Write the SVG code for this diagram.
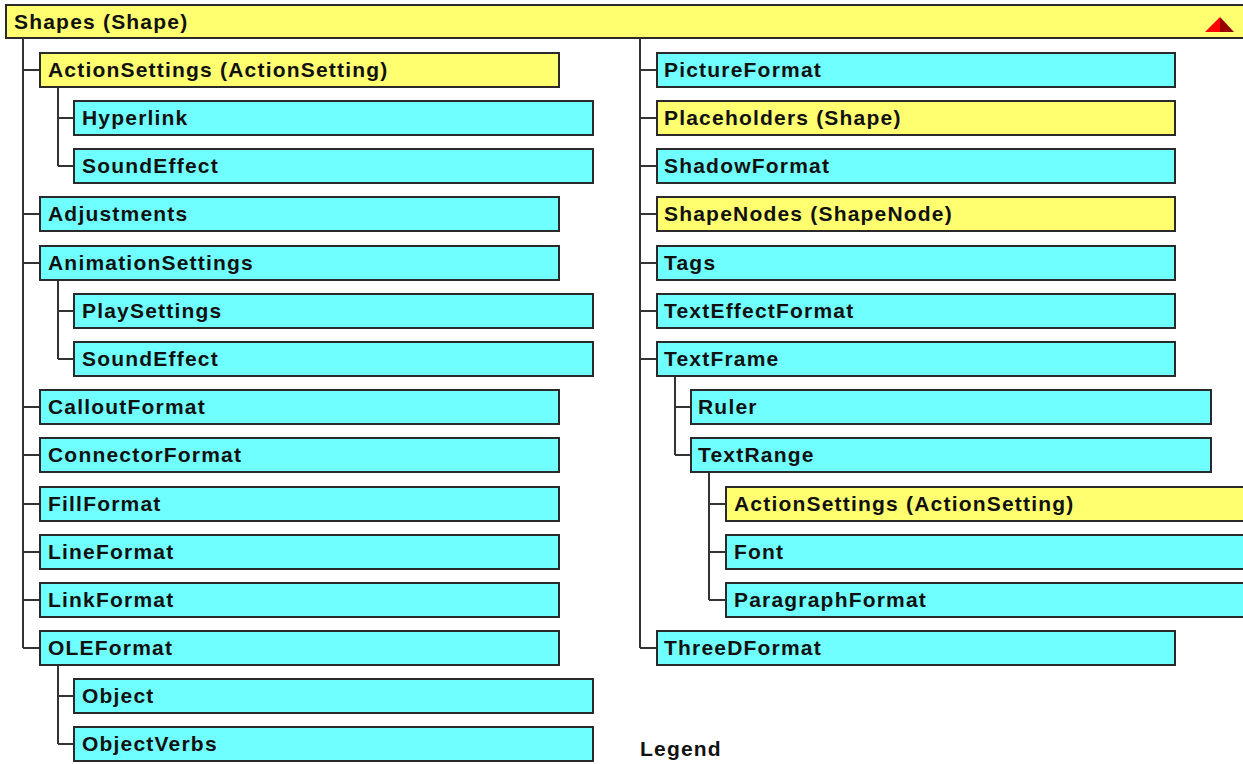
<svg xmlns="http://www.w3.org/2000/svg" width="1243" height="764" viewBox="0 0 1243 764">
<style>
.y{fill:#ffff70;stroke:#2a2a2a;stroke-width:2}
.c{fill:#70ffff;stroke:#2a2a2a;stroke-width:2}
text{font-family:"Liberation Sans",Arial,sans-serif;font-weight:bold;font-size:21px;letter-spacing:1.2px;fill:#111}
.ln{stroke:#333;stroke-width:2;fill:none}
</style>
<rect width="1243" height="764" fill="#fff"/>
<g id="root">
<rect class="y" x="6" y="5" width="1240" height="33"/>
<text x="14" y="29">Shapes (Shape)</text>
<polygon points="1205,32 1220,17 1220,32" fill="#ff0000"/>
<polygon points="1220,17 1234,32 1220,32" fill="#9a0000"/>
</g>
<g id="connectors" class="ln">
<path d="M23 38V648M23 70H40M23 214H40M23 263H40M23 407H40M23 455H40M23 504H40M23 552H40M23 600H40M23 648H40"/>
<path d="M58 87V166M58 118H74M58 166H74"/>
<path d="M58 280V359M58 311H74M58 359H74"/>
<path d="M58 665V744M58 696H74M58 744H74"/>
<path d="M640 38V648M640 70H657M640 118H657M640 166H657M640 214H657M640 263H657M640 311H657M640 359H657M640 648H657"/>
<path d="M675 376V455M675 407H691M675 455H691"/>
<path d="M709 472V600M709 504H726M709 552H726M709 600H726"/>
</g>
<g id="n1"><rect class="y" x="40" y="53" width="519" height="34"/><text x="48" y="77">ActionSettings (ActionSetting)</text></g>
<g id="n2"><rect class="c" x="74" y="101" width="519" height="34"/><text x="82" y="125">Hyperlink</text></g>
<g id="n3"><rect class="c" x="74" y="149" width="519" height="34"/><text x="82" y="173">SoundEffect</text></g>
<g id="n4"><rect class="c" x="40" y="197" width="519" height="34"/><text x="48" y="221">Adjustments</text></g>
<g id="n5"><rect class="c" x="40" y="246" width="519" height="34"/><text x="48" y="270">AnimationSettings</text></g>
<g id="n6"><rect class="c" x="74" y="294" width="519" height="34"/><text x="82" y="318">PlaySettings</text></g>
<g id="n7"><rect class="c" x="74" y="342" width="519" height="34"/><text x="82" y="366">SoundEffect</text></g>
<g id="n8"><rect class="c" x="40" y="390" width="519" height="34"/><text x="48" y="414">CalloutFormat</text></g>
<g id="n9"><rect class="c" x="40" y="438" width="519" height="34"/><text x="48" y="462">ConnectorFormat</text></g>
<g id="n10"><rect class="c" x="40" y="487" width="519" height="34"/><text x="48" y="511">FillFormat</text></g>
<g id="n11"><rect class="c" x="40" y="535" width="519" height="34"/><text x="48" y="559">LineFormat</text></g>
<g id="n12"><rect class="c" x="40" y="583" width="519" height="34"/><text x="48" y="607">LinkFormat</text></g>
<g id="n13"><rect class="c" x="40" y="631" width="519" height="34"/><text x="48" y="655">OLEFormat</text></g>
<g id="n14"><rect class="c" x="74" y="679" width="519" height="34"/><text x="82" y="703">Object</text></g>
<g id="n15"><rect class="c" x="74" y="727" width="519" height="34"/><text x="82" y="751">ObjectVerbs</text></g>
<g id="r1"><rect class="c" x="657" y="53" width="518" height="34"/><text x="664" y="77">PictureFormat</text></g>
<g id="r2"><rect class="y" x="657" y="101" width="518" height="34"/><text x="664" y="125">Placeholders (Shape)</text></g>
<g id="r3"><rect class="c" x="657" y="149" width="518" height="34"/><text x="664" y="173">ShadowFormat</text></g>
<g id="r4"><rect class="y" x="657" y="197" width="518" height="34"/><text x="664" y="221">ShapeNodes (ShapeNode)</text></g>
<g id="r5"><rect class="c" x="657" y="246" width="518" height="34"/><text x="664" y="270">Tags</text></g>
<g id="r6"><rect class="c" x="657" y="294" width="518" height="34"/><text x="664" y="318">TextEffectFormat</text></g>
<g id="r7"><rect class="c" x="657" y="342" width="518" height="34"/><text x="664" y="366">TextFrame</text></g>
<g id="r8"><rect class="c" x="691" y="390" width="520" height="34"/><text x="698" y="414">Ruler</text></g>
<g id="r9"><rect class="c" x="691" y="438" width="520" height="34"/><text x="698" y="462">TextRange</text></g>
<g id="r10"><rect class="y" x="726" y="487" width="530" height="34"/><text x="734" y="511">ActionSettings (ActionSetting)</text></g>
<g id="r11"><rect class="c" x="726" y="535" width="530" height="34"/><text x="734" y="559">Font</text></g>
<g id="r12"><rect class="c" x="726" y="583" width="530" height="34"/><text x="734" y="607">ParagraphFormat</text></g>
<g id="r13"><rect class="c" x="657" y="631" width="518" height="34"/><text x="664" y="655">ThreeDFormat</text></g>
<text x="640" y="756">Legend</text>
</svg>
